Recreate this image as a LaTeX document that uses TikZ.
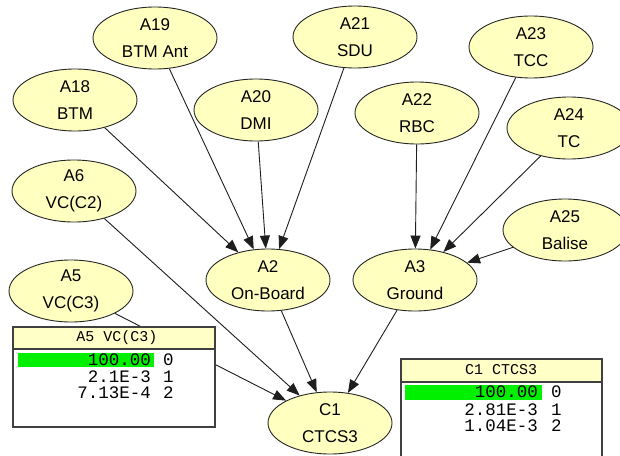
\documentclass[tikz,border=0pt]{standalone}
\usepackage{fontspec}
\setmainfont{Liberation Sans}
\newfontfamily\monofont{Liberation Mono}
\usetikzlibrary{arrows.meta,shapes.geometric}

\definecolor{nodefill}{RGB}{255,255,192}
\definecolor{titlefill}{RGB}{255,255,200}
\definecolor{barfill}{RGB}{0,240,0}
\definecolor{edgecol}{RGB}{30,30,30}

\tikzset{
  varnode/.style={ellipse, draw=black!85, line width=0.9pt, fill=nodefill,
    minimum width=124pt, minimum height=62pt, inner sep=0pt, align=center,
    font=\fontsize{17}{27}\selectfont},
  link/.style={draw=edgecol, line width=0.9pt, -{Triangle[length=13pt,width=10pt]}},
  monbox/.style={draw=black!75, line width=1.2pt, fill=white},
  montitle/.style={draw=black!75, line width=1.2pt, fill=titlefill},
  montitletext/.style={font=\monofont\fontsize{15}{15}\selectfont, inner sep=0pt},
  monval/.style={font=\monofont\fontsize{17.5}{17.5}\selectfont, inner sep=0pt, anchor=east},
  monstate/.style={font=\monofont\fontsize{17.5}{17.5}\selectfont, inner sep=0pt, anchor=west},
}

\begin{document}
\begin{tikzpicture}[x=1pt,y=-1pt]
\useasboundingbox (0,0) rectangle (620,455);
\clip (0,0) rectangle (620,455);
\fill[white] (0,0) rectangle (620,455);

% variables
\node[varnode] (a19) at (155,38)  {A19\\BTM Ant};
\node[varnode] (a21) at (355,37)  {A21\\SDU};
\node[varnode] (a23) at (531,47)  {A23\\TCC};
\node[varnode] (a18) at (75,100)  {A18\\BTM};
\node[varnode] (a20) at (256,110) {A20\\DMI};
\node[varnode] (a22) at (417,113) {A22\\RBC};
\node[varnode] (a24) at (569,128) {A24\\TC};
\node[varnode] (a6)  at (74,191)  {A6\\VC(C2)};
\node[varnode] (a25) at (565,230) {A25\\Balise};
\node[varnode] (a2)  at (268,280) {A2\\On-Board};
\node[varnode] (a3)  at (415,280) {A3\\Ground};
\node[varnode] (a5)  at (71,291)  {A5\\VC(C3)};
\node[varnode] (c1)  at (330,423) {C1\\CTCS3};

% dependencies
\draw[link] (a18) -- (a2);
\draw[link] (a19) -- (a2);
\draw[link] (a20) -- (a2);
\draw[link] (a21) -- (a2);
\draw[link] (a22) -- (a3);
\draw[link] (a23) -- (a3);
\draw[link] (a24) -- (a3);
\draw[link] (a25) -- (a3);
\draw[link] (a6) -- (c1);
\draw[link] (a5) -- (c1);
\draw[link] (a2) -- (c1);
\draw[link] (a3) -- (c1);

% monitor window for A5
\draw[monbox] (13,327) rectangle (215,427);
\draw[montitle] (13,327) rectangle (215,349);
\node[montitletext] (t5) at (117,338) {A5 VC(C3)};
\fill[barfill] (18,353) rectangle (154,367);
\node[monval]   (v5a) at (151,360) {100.00};
\node[monstate] (s5a) at (163,360) {0};
\node[monval]   (v5b) at (151,377) {2.1E-3};
\node[monstate] (s5b) at (163,377) {1};
\node[monval]   (v5c) at (151,393) {7.13E-4};
\node[monstate] (s5c) at (163,393) {2};

% monitor window for C1
\draw[monbox] (401,359) rectangle (602,470);
\draw[montitle] (401,359) rectangle (602,382);
\node[montitletext] (t1) at (501,370) {C1 CTCS3};
\fill[barfill] (405,385) rectangle (542,400);
\node[monval]   (v1a) at (538,392) {100.00};
\node[monstate] (s1a) at (551,392) {0};
\node[monval]   (v1b) at (538,410) {2.81E-3};
\node[monstate] (s1b) at (551,410) {1};
\node[monval]   (v1c) at (538,426) {1.04E-3};
\node[monstate] (s1c) at (551,426) {2};
\end{tikzpicture}
\end{document}
